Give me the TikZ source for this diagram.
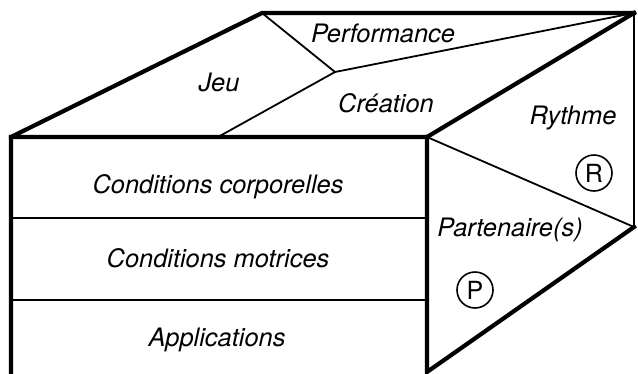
\documentclass[tikz,border=0pt]{standalone}
\usepackage{fontspec}
\setmainfont{TeX Gyre Heros}
\begin{document}
\begin{tikzpicture}[x=1pt,y=-1pt,
  thickedge/.style={line width=4.2pt,line join=miter,line cap=rect},
  thinedge/.style={line width=1.8pt},
  medge/.style={line width=2.4pt},
  lbl/.style={font=\fontsize{25.4}{30}\selectfont\itshape,anchor=base,inner sep=0pt},
  circ/.style={draw,circle,line width=1.6pt,minimum size=36pt,inner sep=0pt,font=\fontsize{25}{30}\selectfont}]
\useasboundingbox (0,0) rectangle (638,373);
\begin{scope}
\clip (0,0) rectangle (638,373);
% corners
\coordinate (FTL) at (11,137);
\coordinate (FTR) at (427,137);
\coordinate (FBL) at (11,390);
\coordinate (FBR) at (427,372);
\coordinate (BTL) at (262,13);
\coordinate (BTR) at (634,13);
\coordinate (BBR) at (634,227);
\coordinate (M) at (335,72);
\coordinate (C) at (218,137);
\coordinate (H1L) at (11,218);
\coordinate (H1R) at (427,218);
\coordinate (H2L) at (11,300);
\coordinate (H2R) at (427,300);
% thin dividers
\draw[thinedge] (BTL) -- (M) -- (BTR);
\draw[thinedge] (M) -- (C);
\draw[thinedge] (FTR) -- (BBR);
\draw[thinedge] (H1L) -- (H1R);
\draw[thinedge] (H2L) -- (H2R);
\draw[medge] (BTR) -- (BBR);
% thick outline
\draw[thickedge] (FBL) -- (FTL) -- (BTL) -- (BTR);
\draw[thickedge] (FTL) -- (FTR) -- (BTR);
\draw[thickedge] (FTR) -- (FBR) -- (BBR);
\end{scope}
% labels
\node[lbl] (jeu) at (219,91) {Jeu};
\node[lbl] (perf) at (383,42) {Performance};
\node[lbl] (crea) at (386,112) {Création};
\node[lbl] (ryth) at (573,124) {Rythme};
\node[lbl] (part) at (510,236) {Partenaire(s)};
\node[lbl] (cc) at (218,193) {Conditions corporelles};
\node[lbl] (cm) at (218,267) {Conditions motrices};
\node[lbl] (app) at (217,346) {Applications};
\node[circ] (R) at (594,173) {R};
\node[circ] (P) at (475,290) {P};
\end{tikzpicture}
\end{document}
